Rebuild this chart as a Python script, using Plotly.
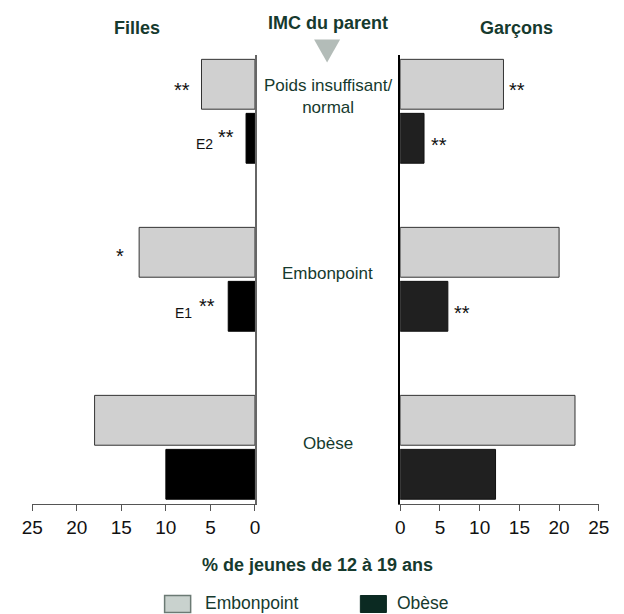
import plotly.graph_objects as go

categories = ["Poids insuffisant/normal", "Embonpoint", "Obèse"]
center_labels = ["Poids insuffisant/<br>normal", "Embonpoint", "Obèse"]
filles_embonpoint = [6, 13, 18]
filles_obese = [1, 3, 10]
garcons_embonpoint = [13, 20, 22]
garcons_obese = [3, 6, 12]
tick_vals = [0, 5, 10, 15, 20, 25]

# the page body has an 8px margin: figure is sized/positioned to compensate
OFF = 8
W, H = 624 - OFF, 614 - OFF


def px(x):
    return (x - OFF) / W


def py(y):
    return 1 - (y - OFF) / H


FONT = "Liberation Sans, Arial, sans-serif"
GREEN = "#163a2e"
EMB_FILL = "#d0d0d0"

fig = go.Figure()
# left (Filles)
fig.add_trace(go.Bar(y=categories, x=filles_obese, orientation="h", name="Obèse",
                     marker=dict(color="#000000", line=dict(color="#000000", width=1)),
                     xaxis="x", yaxis="y", showlegend=False))
fig.add_trace(go.Bar(y=categories, x=filles_embonpoint, orientation="h", name="Embonpoint",
                     marker=dict(color=EMB_FILL, line=dict(color="#333333", width=1)),
                     xaxis="x", yaxis="y", showlegend=False))
# right (Garçons)
fig.add_trace(go.Bar(y=categories, x=garcons_obese, orientation="h", name="Obèse",
                     marker=dict(color="#202020", line=dict(color="#111111", width=1)),
                     xaxis="x2", yaxis="y2", showlegend=False))
fig.add_trace(go.Bar(y=categories, x=garcons_embonpoint, orientation="h", name="Embonpoint",
                     marker=dict(color=EMB_FILL, line=dict(color="#333333", width=1)),
                     xaxis="x2", yaxis="y2", showlegend=False))

ydom = [py(504), py(55)]
yrange = [-0.3375, 2.335]
cat_order = list(reversed(categories))

axis_common = dict(tickvals=tick_vals, ticks="outside", ticklen=6, tickcolor="#555555",
                   showline=True, linecolor="#555555", linewidth=1, showgrid=False,
                   zeroline=False, tickfont=dict(family=FONT, size=19, color="#111111"),
                   fixedrange=True)

fig.update_layout(
    width=W, height=H,
    margin=dict(l=0, r=0, t=0, b=0),
    paper_bgcolor="white", plot_bgcolor="white",
    barmode="group", bargap=0.357, bargroupgap=0.077,
    xaxis=dict(domain=[px(21.7), px(252.7)], range=[25, 0], anchor="y", **axis_common),
    xaxis2=dict(domain=[px(403.3), px(609.3)], range=[0, 25], anchor="y2", **axis_common),
    yaxis=dict(domain=ydom, range=yrange, categoryorder="array", categoryarray=cat_order,
               anchor="x", side="right", showline=True, linecolor="#666666", linewidth=2,
               showticklabels=False, ticks="", showgrid=False, zeroline=False, fixedrange=True),
    yaxis2=dict(domain=ydom, range=yrange, categoryorder="array", categoryarray=cat_order,
                anchor="x2", side="left", showline=True, linecolor="#000000", linewidth=1.5,
                showticklabels=False, ticks="", showgrid=False, zeroline=False, fixedrange=True),
)

annots = []
# headers
for txt, xp, yp in [("Filles", 130, 28), ("IMC du parent", 328, 23), ("Garçons", 524, 28)]:
    annots.append(dict(text="<b>%s</b>" % txt, x=px(xp), y=py(yp), xref="paper", yref="paper",
                       showarrow=False, font=dict(family=FONT, size=18, color=GREEN),
                       xanchor="center", yanchor="middle"))
# center category labels
for lab, cat, ys in zip(center_labels, categories, [15, 6, 4]):
    annots.append(dict(text=lab, x=px(328), y=cat, xref="paper", yref="y", showarrow=False,
                       font=dict(family=FONT, size=17, color=GREEN), xanchor="center",
                       yanchor="middle", yshift=ys))
# significance markers
STAR = dict(family=FONT, size=20, color="#111111")
SMALL = dict(family=FONT, size=14, color="#111111")
# left
annots.append(dict(text="**", x=filles_embonpoint[0], y=categories[0], xref="x", yref="y",
                   xanchor="right", xshift=-10, yshift=21, showarrow=False, font=STAR))
annots.append(dict(text="**", x=filles_obese[0], y=categories[0], xref="x", yref="y",
                   xanchor="right", xshift=-10, yshift=-26, showarrow=False, font=STAR))
annots.append(dict(text="E2", x=filles_obese[0], y=categories[0], xref="x", yref="y",
                   xanchor="right", xshift=-31, yshift=-33, showarrow=False, font=SMALL))
annots.append(dict(text="*", x=filles_embonpoint[1], y=categories[1], xref="x", yref="y",
                   xanchor="right", xshift=-13, yshift=23, showarrow=False, font=STAR))
annots.append(dict(text="**", x=filles_obese[1], y=categories[1], xref="x", yref="y",
                   xanchor="right", xshift=-11, yshift=-27, showarrow=False, font=STAR))
annots.append(dict(text="E1", x=filles_obese[1], y=categories[1], xref="x", yref="y",
                   xanchor="right", xshift=-34, yshift=-34, showarrow=False, font=SMALL))
# right
annots.append(dict(text="**", x=garcons_embonpoint[0], y=categories[0], xref="x2", yref="y2",
                   xanchor="left", xshift=4, yshift=21, showarrow=False, font=STAR))
annots.append(dict(text="**", x=garcons_obese[0], y=categories[0], xref="x2", yref="y2",
                   xanchor="left", xshift=5, yshift=-34, showarrow=False, font=STAR))
annots.append(dict(text="**", x=garcons_obese[1], y=categories[1], xref="x2", yref="y2",
                   xanchor="left", xshift=4, yshift=-34, showarrow=False, font=STAR))
# x title
annots.append(dict(text="<b>% de jeunes de 12 à 19 ans</b>", x=px(317.5), y=py(565),
                   xref="paper", yref="paper", showarrow=False,
                   font=dict(family=FONT, size=18, color=GREEN), xanchor="center", yanchor="middle"))
# legend
annots.append(dict(text="Embonpoint", x=px(199), y=py(603), xref="paper", yref="paper",
                   showarrow=False, font=dict(family=FONT, size=17.5, color=GREEN),
                   xanchor="left", yanchor="middle"))
annots.append(dict(text="Obèse", x=px(398), y=py(603), xref="paper", yref="paper",
                   showarrow=False, font=dict(family=FONT, size=17.5, color=GREEN),
                   xanchor="left", yanchor="middle"))

shapes = [
    dict(type="rect", xref="paper", yref="paper", x0=px(159), x1=px(186),
         y0=py(612.5), y1=py(595.5), fillcolor="#c9d2ce",
         line=dict(color="#6b7a74", width=1.5)),
    dict(type="rect", xref="paper", yref="paper", x0=px(362), x1=px(389),
         y0=py(612.5), y1=py(595.5), fillcolor="#0b2a22",
         line=dict(color="#0b2a22", width=1)),
    dict(type="path", xref="paper", yref="paper",
         path="M %f %f L %f %f L %f %f Z" % (px(314), py(39.5), px(341), py(39.5),
                                             px(327.5), py(62.5)),
         fillcolor="#b3bcb8", line=dict(width=0)),
]

fig.update_layout(annotations=annots, shapes=shapes)
fig.write_html("out.html")
